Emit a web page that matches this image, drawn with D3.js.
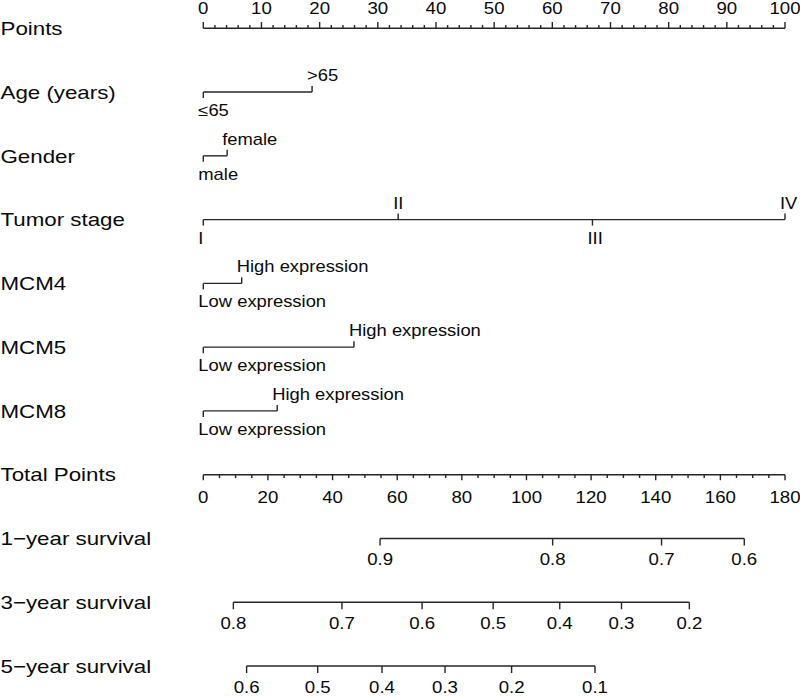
<!DOCTYPE html>
<html>
<head>
<meta charset="utf-8">
<script src="https://cdn.jsdelivr.net/npm/d3@7"></script>
<style>
  html, body { margin: 0; padding: 0; background: #fff; }
  svg { display: block; }
  text { font-family: "Liberation Sans", Arial, Helvetica, sans-serif; fill: #0a0a0a; }
</style>
</head>
<body>
<svg id="chart" width="800" height="696"></svg>
<script>
// ---------------- data ----------------
const rowLabels = ["Points", "Age (years)", "Gender", "Tumor stage", "MCM4", "MCM5", "MCM8",
                   "Total Points", "1\u2212year survival", "3\u2212year survival", "5\u2212year survival"];

const pointsMajor = [0, 10, 20, 30, 40, 50, 60, 70, 80, 90, 100];
const pointsMinorStep = 2;
const totalMajor = [0, 20, 40, 60, 80, 100, 120, 140, 160, 180];
const totalMinorStep = 5;

const ageLevels = ["\u226465", ">65"];
const agePoints = [0, 18.7];
const genderLevels = ["male", "female"];
const genderPoints = [0, 4.1];
const stageLevels = ["I", "II", "III", "IV"];
const stagePoints = [0, 33.5, 66.9, 100];
const mcm4Levels = ["Low expression", "High expression"];
const mcm4Points = [0, 6.6];
const mcm5Levels = ["Low expression", "High expression"];
const mcm5Points = [0, 25.9];
const mcm8Levels = ["Low expression", "High expression"];
const mcm8Points = [0, 12.7];

const surv1Probs = ["0.9", "0.8", "0.7", "0.6"];
const surv1Total = [54.7, 108.1, 141.8, 167.4];
const surv3Probs = ["0.8", "0.7", "0.6", "0.5", "0.4", "0.3", "0.2"];
const surv3Total = [9.3, 42.9, 67.7, 89.7, 110.3, 129.4, 150.4];
const surv5Probs = ["0.6", "0.5", "0.4", "0.3", "0.2", "0.1"];
const surv5Total = [13.4, 35.4, 55.3, 74.8, 95.4, 121.2];

// ---------------- layout ----------------
const svg = d3.select("#chart");
const x0 = 203.3, x1 = 785;
const xPts = d3.scaleLinear().domain([0, 100]).range([x0, x1]);
const xTot = d3.scaleLinear().domain([0, 180]).range([x0, x1]);
const yRow = d3.scaleLinear().domain([0, rowLabels.length - 1]).range([28.3, 666]);

const STROKE = "#262626", SW = 1.4;
const SX_LEFT = 1.2, SX_VAL = 1.15, SX_NUM = 1.18;
const FS_LEFT = 18.6, FS_VAL = 16, FS_NUM = 15.8;

function stretchedText(g, x, y, str, size, sx, anchor) {
  g.append("text")
    .attr("transform", `translate(${x},${y}) scale(${sx},1)`)
    .attr("text-anchor", anchor)
    .style("font-size", size + "px")
    .text(str);
}
function line(g, xa, ya, xb, yb) {
  g.append("line").attr("x1", xa).attr("y1", ya).attr("x2", xb).attr("y2", yb)
    .attr("stroke", STROKE).attr("stroke-width", SW).attr("stroke-linecap", "butt");
}

// left labels
const gLeft = svg.append("g");
rowLabels.forEach((lab, i) => stretchedText(gLeft, 0.5, yRow(i) + 6.7, lab, FS_LEFT, SX_LEFT, "start"));

// Points axis (ticks up, labels above)
{
  const g = svg.append("g");
  const y = yRow(0);
  line(g, xPts(0), y, xPts(100), y);
  d3.range(0, 100 + 1e-9, pointsMinorStep).forEach(v => {
    const major = pointsMajor.includes(v);
    line(g, xPts(v), y, xPts(v), y - (major ? 6.3 : 3.3));
  });
  pointsMajor.forEach(v => stretchedText(g, xPts(v), 14.3, String(v), FS_NUM, SX_NUM, "middle"));
}

// variable axes
const variables = [
  [ageLevels, agePoints],
  [genderLevels, genderPoints],
  [stageLevels, stagePoints],
  [mcm4Levels, mcm4Points],
  [mcm5Levels, mcm5Points],
  [mcm8Levels, mcm8Points]
];
variables.forEach(([levels, pts], k) => {
  const g = svg.append("g");
  const y = yRow(k + 1);
  line(g, xPts(d3.min(pts)), y, xPts(d3.max(pts)), y);
  levels.forEach((lab, i) => {
    const xx = xPts(pts[i]);
    const up = i % 2 === 1;
    line(g, xx, y, xx, up ? y - 6 : y + 6);
    stretchedText(g, xx - 5, up ? y - 11 : y + 24, lab, FS_VAL, SX_VAL, "start");
  });
});

// Total Points axis (ticks down, labels below)
{
  const g = svg.append("g");
  const y = yRow(7);
  line(g, xTot(0), y, xTot(180), y);
  d3.range(0, 180 + 1e-9, totalMinorStep).forEach(v => {
    const major = totalMajor.includes(v);
    line(g, xTot(v), y, xTot(v), y + (major ? 5.5 : 3.3));
  });
  totalMajor.forEach(v => stretchedText(g, xTot(v), y + 28, String(v), FS_NUM, SX_NUM, "middle"));
}

// survival axes
[[surv1Probs, surv1Total], [surv3Probs, surv3Total], [surv5Probs, surv5Total]].forEach(([probs, tot], k) => {
  const g = svg.append("g");
  const y = yRow(8 + k);
  line(g, xTot(d3.min(tot)), y, xTot(d3.max(tot)), y);
  tot.forEach((t, i) => {
    line(g, xTot(t), y, xTot(t), y + 7);
    stretchedText(g, xTot(t), y + 26.8, probs[i], FS_NUM, SX_NUM, "middle");
  });
});
</script>
</body>
</html>
